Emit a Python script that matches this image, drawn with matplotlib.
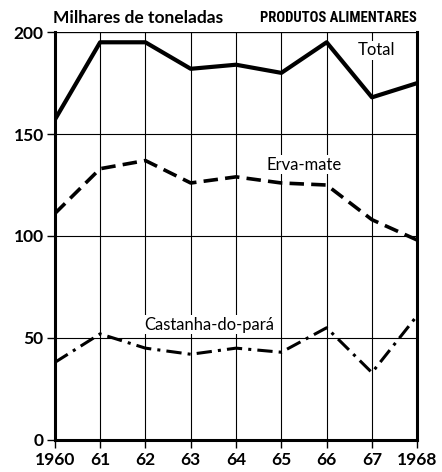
import matplotlib.pyplot as plt
from matplotlib import font_manager

# anos e valores (milhares de toneladas)
anos = [1960, 1961, 1962, 1963, 1964, 1965, 1966, 1967, 1968]
total = [157, 195, 195, 182, 184, 180, 195, 168, 175]
erva_mate = [111, 133, 137, 126, 129, 126, 125, 108, 98]
castanha = [38, 52, 45, 42, 45, 43, 55, 33, 61]
x_labels = ["1960", "61", "62", "63", "64", "65", "66", "67", "1968"]
y_ticks = [0, 50, 100, 150, 200]

fonte = ["Lato", "DejaVu Sans"]

# procura uma fonte estreita para o titulo
nomes = set(f.name for f in font_manager.fontManager.ttflist)
estreita = "DejaVu Sans"
for n in ["Liberation Sans Narrow", "DejaVu Sans Condensed", "Roboto Condensed"]:
    if n in nomes:
        estreita = n
        break

fig = plt.figure(figsize=(4.42, 4.72), dpi=100)
ax = fig.add_axes([0.124, 0.068, 0.82, 0.864])

# grade
for a in anos:
    ax.axvline(a, color="black", linewidth=0.8, zorder=1)
for v in y_ticks[1:]:
    ax.axhline(v, color="black", linewidth=0.8, zorder=1)
ax.axhline(200, color="black", linewidth=1.6, zorder=1)

# linhas
ax.plot(anos, total, c="black", linewidth=3, zorder=3)
ax.plot(anos, erva_mate, c="black", linewidth=2.6, linestyle=(0, (4, 2)), zorder=3)
ax.plot(anos, castanha, c="black", linewidth=2.2, linestyle=(0, (5, 2, 1, 2)), zorder=3)

ax.set_xlim(1960, 1968)
ax.set_ylim(0, 200)
ax.set_xticks(anos)
ax.set_xticklabels(x_labels)
ax.set_yticks(y_ticks)
ax.set_yticklabels([str(v) for v in y_ticks])
ax.tick_params(axis="both", direction="out", length=6, width=1, labelsize=12.5)
ax.tick_params(axis="y", pad=2)
ax.tick_params(axis="x", pad=3)
for lab in ax.get_xticklabels() + ax.get_yticklabels():
    lab.set_family(fonte)
    lab.set_fontweight("bold")

for s in ["left", "bottom", "right"]:
    ax.spines[s].set_linewidth(2.2)
ax.spines["top"].set_visible(False)

# textos
ax.text(1959.95, 203, "Milhares de toneladas", fontsize=12.5, fontweight="bold",
        family=fonte, ha="left", va="bottom")
tam = 10.5 if estreita != "DejaVu Sans" else 8.5
fig.text(0.942, 0.962, "PRODUTOS ALIMENTARES", fontsize=tam, fontweight="bold",
         family=[estreita, "DejaVu Sans"], ha="right", va="center")
ax.text(1967.1, 191, "Total", fontsize=12, family=fonte, ha="center", va="center",
        bbox=dict(facecolor="white", edgecolor="none", pad=1), zorder=2)
ax.text(1965.5, 135, "Erva-mate", fontsize=12, family=fonte, ha="center", va="center",
        bbox=dict(facecolor="white", edgecolor="none", pad=1), zorder=2)
ax.text(1963.4, 56.5, "Castanha-do-pará", fontsize=12, family=fonte, ha="center", va="center",
        bbox=dict(facecolor="white", edgecolor="none", pad=1), zorder=2)

plt.savefig("out.png", dpi=100)
